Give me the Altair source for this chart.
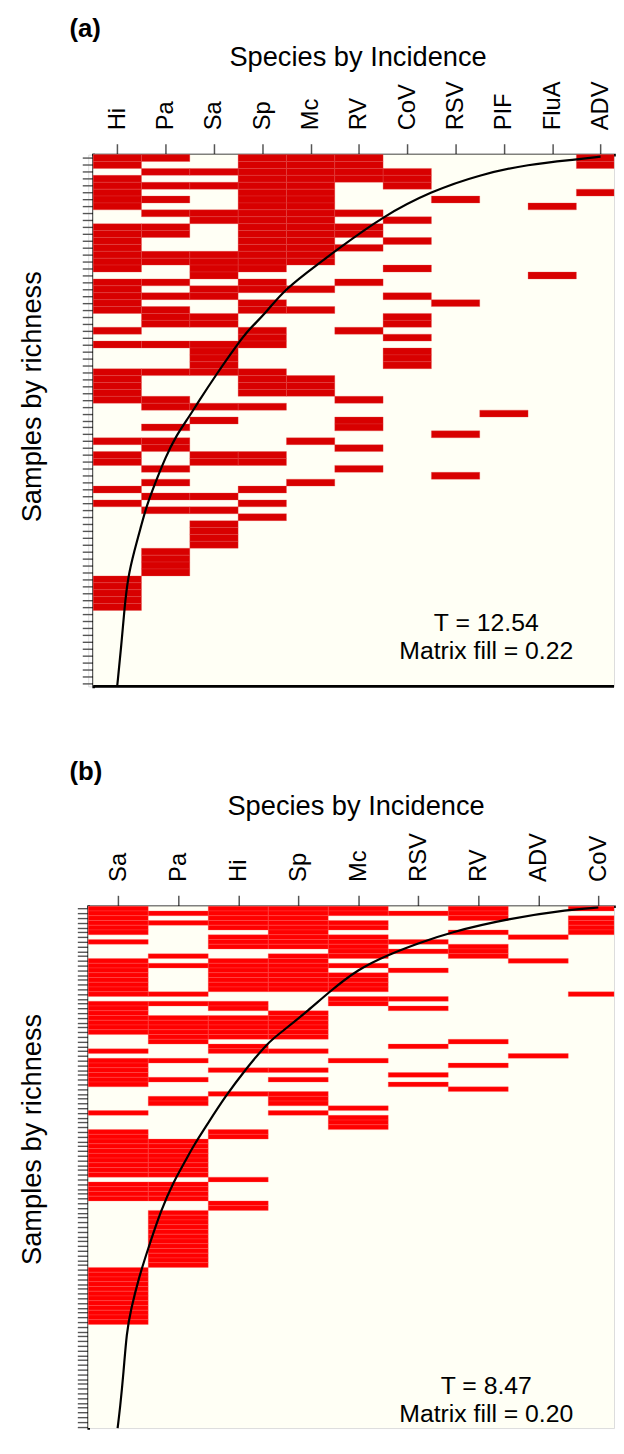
import altair as alt
import pandas as pd

FONT = "Liberation Sans"
CREAM = "#fffff5"

# ---------------- panel (a) ----------------
A_TAG = "(a)"
A_SPECIES = ["Hi", "Pa", "Sa", "Sp", "Mc", "RV", "CoV", "RSV", "PIF", "FluA", "ADV"]
A_ROWS = [
    "11011100001", "10011100001", "01111110000", "10011110000", "11111010000",
    "10011000001", "11011001000", "10011000010", "01111100000", "00111010000",
    "11011100000", "11011100000", "10011010000", "10011100000", "11111000000",
    "11111000000", "10110010000", "00100000010", "11010100000", "10111000000",
    "11100010000", "10010001000", "11011000000", "01100010000", "01100010000",
    "10010100000", "00010010000", "11110000000", "00100010000", "00100010000",
    "00100010000", "11110000000", "10011000000", "10011000000", "10011000000",
    "11000100000", "01110000000", "00000000100", "00100100000", "01000100000",
    "00000001000", "11001000000", "01000100000", "10110000000", "10110000000",
    "01000100000", "00000001000", "01001000000", "10010000000", "01100000000",
    "10010000000", "01100000000", "00010000000", "00100000000", "00100000000",
    "00100000000", "00100000000", "01000000000", "01000000000", "01000000000",
    "01000000000", "10000000000", "10000000000", "10000000000", "10000000000",
    "10000000000", "00000000000", "00000000000", "00000000000", "00000000000",
    "00000000000", "00000000000", "00000000000", "00000000000", "00000000000",
    "00000000000", "00000000000",
]
A_CURVE_COL = [0.50, 0.58, 0.65, 0.72, 0.85, 1.00, 1.10, 1.28, 1.50, 1.70, 2.00, 2.15, 2.55,
               3.00, 3.25, 3.54, 3.90, 4.40, 5.00, 6.00, 7.00, 8.00, 9.00, 10.00, 10.50]
A_CURVE_ROW = [76.8, 71.3, 65.5, 61.2, 57.4, 53.6, 51.0, 47.6, 43.8, 40.9, 37.8, 36.1, 31.8,
               27.3, 25.1, 23.2, 20.0, 17.2, 14.0, 8.9, 5.3, 2.9, 1.4, 0.7, 0.3]
A_STATS = ["T = 12.54", "Matrix fill = 0.22"]

# ---------------- panel (b) ----------------
B_TAG = "(b)"
B_SPECIES = ["Sa", "Pa", "Hi", "Sp", "Mc", "RSV", "RV", "ADV", "CoV"]
B_ROWS = [
    "101110101", "111111100", "101100101", "111110001", "101110001",
    "100100101", "001110010", "101111000", "001110100", "000011100",
    "010110100", "101100010", "111110000", "101101000", "101110000",
    "101110000", "101110000", "101110000", "110000001", "000011000",
    "111010000", "101001000", "100100000", "111100000", "111100000",
    "111100000", "111100000", "011100000", "010000100", "001001000",
    "101100000", "000000010", "110010000", "100000100", "101100000",
    "100001000", "110100000", "100001000", "000000100", "001100000",
    "010100000", "010100000", "000010000", "100100000", "000010000",
    "000010000", "000010000", "101000000", "101000000", "110000000",
    "110000000", "110000000", "110000000", "110000000", "110000000",
    "110000000", "110000000", "001000000", "110000000", "110000000",
    "110000000", "110000000", "001000000", "001000000", "010000000",
    "010000000", "010000000", "010000000", "010000000", "010000000",
    "010000000", "010000000", "010000000", "010000000", "010000000",
    "010000000", "100000000", "100000000", "100000000", "100000000",
    "100000000", "100000000", "100000000", "100000000", "100000000",
    "100000000", "100000000", "100000000", "000000000", "000000000",
    "000000000", "000000000", "000000000", "000000000", "000000000",
    "000000000", "000000000", "000000000", "000000000", "000000000",
    "000000000", "000000000", "000000000", "000000000", "000000000",
    "000000000", "000000000", "000000000", "000000000", "000000000",
    "000000000", "000000000", "000000000", "000000000",
]
B_CURVE_COL = [0.49, 0.53, 0.59, 0.64, 0.71, 0.85, 0.99, 1.21, 1.43, 1.62, 1.75, 2.00, 2.28,
               2.63, 3.00, 3.22, 3.69, 4.00, 4.50, 5.00, 5.50, 6.00, 7.00, 8.03, 8.50]
B_CURVE_ROW = [112.3, 105.7, 98.0, 89.7, 84.9, 77.9, 72.4, 64.0, 57.8, 53.6, 50.5, 45.6, 40.1,
               34.2, 28.6, 26.5, 21.7, 18.2, 13.2, 10.2, 7.8, 5.6, 2.6, 0.7, 0.28]
B_STATS = ["T = 8.47", "Matrix fill = 0.20"]


def cell_frame(rows):
    recs = []
    for r, s in enumerate(rows):
        for c, ch in enumerate(s):
            if ch == "1":
                recs.append({"x0": c, "x1": c + 1, "y0": r, "y1": r + 1})
    return pd.DataFrame(recs)


def panel(tag, species, rows, ccol, crow, stats, red, edge, width, height,
          xmax, xoff, ymax, draw_bottom, axis_off, title_x, title_y, top_title_y,
          tag_y, stat_y, title_cx):
    xscale = alt.Scale(domain=[0, xmax], range=[xoff, width], clamp=True, nice=False, zero=False)
    yscale = alt.Scale(domain=[0, ymax], reverse=True, clamp=True, nice=False, zero=False)
    names = "[" + ",".join("'" + s + "'" for s in species) + "]"
    xaxis = alt.Axis(
        orient="top", values=[i + 0.5 for i in range(len(species))],
        labelExpr=names + "[floor(datum.value)]",
        title="Species by Incidence", titleFont=FONT, titleFontSize=27.5,
        titleFontWeight="normal", titleColor="black", titleY=top_title_y,
        titleX=title_cx, titleAlign="center", titleBaseline="alphabetic",
        labelFont=FONT, labelFontSize=24, labelAngle=270, labelAlign="left",
        labelBaseline="middle", labelPadding=14, labelColor="black",
        labelOverlap=False, labelFlush=False, labelBound=False,
        tickSize=11, tickColor="#555555", tickWidth=1.5,
        domainColor="black", domainWidth=2.6, domainCap="square", grid=False,
    )
    yaxis = alt.Axis(
        orient="left", values=[i + 0.5 for i in range(len(rows)) if i + 0.5 < ymax],
        labels=False,
        tickSize=11, tickColor="#555555", tickWidth=1.4,
        domainColor="black", domainWidth=2.6, domainCap="square", grid=False,
        offset=axis_off,
        title="Samples by richness", titleFont=FONT, titleFontSize=27.5,
        titleFontWeight="normal", titleColor="black", titleAngle=270,
        titleAlign="center", titleBaseline="bottom", titleX=title_x, titleY=title_y,
    )
    X = alt.X("x0:Q", scale=xscale, axis=xaxis)
    Y = alt.Y("y0:Q", scale=yscale, axis=yaxis)

    bg = alt.Chart(pd.DataFrame({"x0": [0], "x1": [xmax], "y0": [0], "y1": [ymax]})).mark_rect(
        fill=CREAM).encode(x=X, x2="x1", y=Y, y2="y1")
    cells = alt.Chart(cell_frame(rows)).mark_rect(
        fill=red, stroke=edge, strokeWidth=0.3).encode(x=X, x2="x1", y=Y, y2="y1")
    curve = alt.Chart(pd.DataFrame({"x0": ccol, "y0": crow})).mark_line(
        color="black", strokeWidth=2.2, interpolate="basis").encode(x=X, y=Y)
    layers = [bg, cells, curve]
    if draw_bottom:
        rule = alt.Chart(pd.DataFrame({"x0": [0], "x1": [xmax], "y0": [len(rows)]})).mark_rule(
            color="black", strokeWidth=2.6).encode(x=X, x2="x1", y=Y)
        layers.append(rule)
    tag_l = alt.Chart(pd.DataFrame({"t": [tag]})).mark_text(
        font=FONT, fontSize=26, fontWeight="bold", align="left", baseline="alphabetic",
        color="black").encode(text="t:N", x=alt.value(-19), y=alt.value(tag_y))
    layers.append(tag_l)
    for s, yy in zip(stats, stat_y):
        layers.append(alt.Chart(pd.DataFrame({"t": [s]})).mark_text(
            font=FONT, fontSize=25, align="center", baseline="alphabetic",
            color="black").encode(text="t:N", x=alt.value(402), y=alt.value(yy)))
    return alt.layer(*layers).properties(width=width, height=height)


# plot areas start at page x=85 and stop at x=616 (the last column is cut there)
pa = panel(A_TAG, A_SPECIES, A_ROWS, A_CURVE_COL, A_CURVE_ROW, A_STATS,
           "#d80000", "#e44848", 531, 537, 526 / 48.8, 5, len(A_ROWS), True,
           -5, -47, 244, -90, -119, [481, 509], 272)
pb = panel(B_TAG, B_SPECIES, B_ROWS, B_CURVE_COL, B_CURVE_ROW, B_STATS,
           "#ff0000", "#ff5a5a", 531, 527, 531 / 60.6, 0, 527 / 4.8, False,
           0, -42, 235, -93, -127, [493, 521], 270)

chart = alt.vconcat(pa, pb, spacing=222, bounds="flush").properties(
    padding={"left": 10, "top": 0, "right": 0, "bottom": 0}
).configure_view(stroke=None).configure(background="white")

chart.save("out.html", embed_options={"renderer": "svg", "actions": False})
